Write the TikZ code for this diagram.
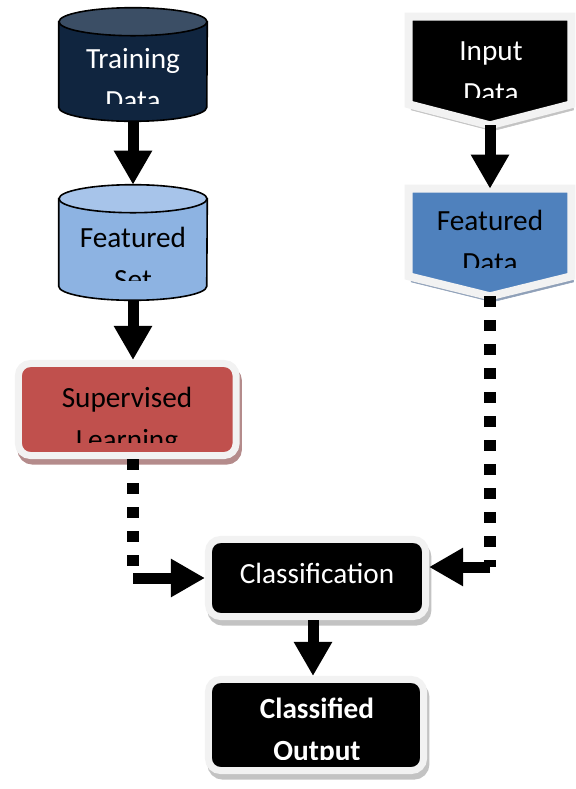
\documentclass[tikz,border=0pt]{standalone}
\usepackage{fontspec}
\setmainfont{Carlito}
\usetikzlibrary{arrows.meta,shadows}

\definecolor{navybody}{HTML}{10253F}
\definecolor{navytop}{HTML}{3B4E65}
\definecolor{setbody}{HTML}{8DB3E2}
\definecolor{settop}{HTML}{A7C4EA}
\definecolor{suppred}{HTML}{C0504D}
\definecolor{featblue}{HTML}{4F81BD}
\definecolor{framegray}{HTML}{F2F2F2}
\definecolor{redshadow}{HTML}{B48B8B}
\definecolor{grayshadow}{HTML}{C3C3C3}
\definecolor{blueshadow}{HTML}{8FA0B8}

\begin{document}
\begin{tikzpicture}[x=0.025cm, y=-0.025cm,
  every node/.style={inner sep=0pt},
  cylline/.style={draw=black, line width=0.04cm},
  roundbox/.style={draw=framegray, line width=0.175cm, rounded corners=0.3cm},
  boxshadow/.style={drop shadow={shadow xshift=0.06cm, shadow yshift=-0.14cm, fill=#1, draw=#1, opacity=1}},
  txt/.style={font=\fontsize{20.8}{30.5}\selectfont, text width=6cm, align=center, anchor=base},
  bigarrow/.style={line width=0.275cm, -{Triangle[width=0.9cm, length=0.85cm]}},
  dotline/.style={line width=0.3cm, dash pattern=on 0.275cm off 0.325cm}]

\useasboundingbox (0,0) rectangle (576,789);

% training data
\node[minimum width=3.7cm, minimum height=2.825cm] (train) at (133,64.5) {};
\path[cylline, fill=navybody] ([yshift=-0.35cm]train.north west) -- ([yshift=0.35cm]train.south west)
  arc[start angle=180, end angle=360, x radius=1.85cm, y radius=0.35cm] -- ([yshift=-0.35cm]train.north east) -- cycle;
\path[cylline, fill=navytop] ([yshift=-0.35cm]train.north) ellipse[x radius=1.85cm, y radius=0.35cm];
\begin{scope}
\clip (0,0) rectangle (576,103);
\node[txt, text=white] (trainlbl) at (133,68) {Training\\Data};
\end{scope}

% featured set
\node[minimum width=3.7cm, minimum height=2.875cm] (fset) at (133,242.5) {};
\path[cylline, fill=setbody] ([yshift=-0.35cm]fset.north west) -- ([yshift=0.35cm]fset.south west)
  arc[start angle=180, end angle=360, x radius=1.85cm, y radius=0.35cm] -- ([yshift=-0.35cm]fset.north east) -- cycle;
\path[cylline, fill=settop] ([yshift=-0.35cm]fset.north) ellipse[x radius=1.85cm, y radius=0.35cm];
\begin{scope}
\clip (0,150) rectangle (576,280);
\node[txt] (fsetlbl) at (133,247) {Featured\\Set};
\end{scope}

% supervised learning
\node[roundbox, fill=suppred, boxshadow=redshadow, minimum width=5.44cm, minimum height=2.3cm] (sup) at (127.25,409.5) {};
\begin{scope}
\clip (0,340) rectangle (576,442);
\node[txt] (suplbl) at (127,407) {Supervised\\Learning};
\end{scope}

% input data
\node[minimum width=4.05cm, minimum height=2.7cm] (inp) at (490,71) {};
\path[draw=framegray, line width=0.2cm, fill=black, boxshadow=grayshadow] (inp.north west) -- (inp.north east)
  -- ([yshift=0.525cm]inp.south east) -- (inp.south) -- ([yshift=0.525cm]inp.south west) -- cycle;
\begin{scope}
\clip (300,0) rectangle (576,97);
\node[txt, text=white] (inplbl) at (491,60) {Input\\Data};
\end{scope}

% featured data
\node[minimum width=4.05cm, minimum height=2.675cm] (fdat) at (490,242.5) {};
\path[draw=framegray, line width=0.2cm, fill=featblue, boxshadow=blueshadow] (fdat.north west) -- (fdat.north east)
  -- ([yshift=0.5cm]fdat.south east) -- (fdat.south) -- ([yshift=0.5cm]fdat.south west) -- cycle;
\begin{scope}
\clip (300,150) rectangle (576,267);
\node[txt] (fdatlbl) at (490,230) {Featured\\Data};
\end{scope}

% classification and output
\node[roundbox, fill=black, boxshadow=grayshadow, minimum width=5.425cm, minimum height=1.925cm] (cls) at (317,578) {};
\node[txt, text=white] (clslbl) at (317,583) {Classification};
\node[roundbox, fill=black, boxshadow=grayshadow, minimum width=5.375cm, minimum height=2.275cm] (out) at (316,725) {};
\begin{scope}
\clip (150,650) rectangle (576,759);
\node[txt, text=white, font=\fontsize{20.8}{30.5}\selectfont\bfseries] (outlbl) at (317,718) {Classified\\Output};
\end{scope}

% connectors
\coordinate (ljoin) at (fset.south |- 0,578);
\coordinate (rjoin) at (fdat.south |- 0,567);
\draw[bigarrow] (train.south) -- (fset.north);
\draw[bigarrow] (fset.south) -- (fset.south |- sup.north);
\draw[bigarrow] (inp.south) -- (fdat.north);
\draw[dotline] (fset.south |- sup.south) -- (ljoin);
\draw[bigarrow] (ljoin) -- (cls.west);
\draw[dotline] (fdat.south) -- (rjoin);
\draw[bigarrow] (rjoin) -- (rjoin -| cls.east);
\draw[bigarrow] ([xshift=-0.1cm]cls.south) -- ([xshift=-0.1cm]cls.south |- out.north);
\end{tikzpicture}
\end{document}
